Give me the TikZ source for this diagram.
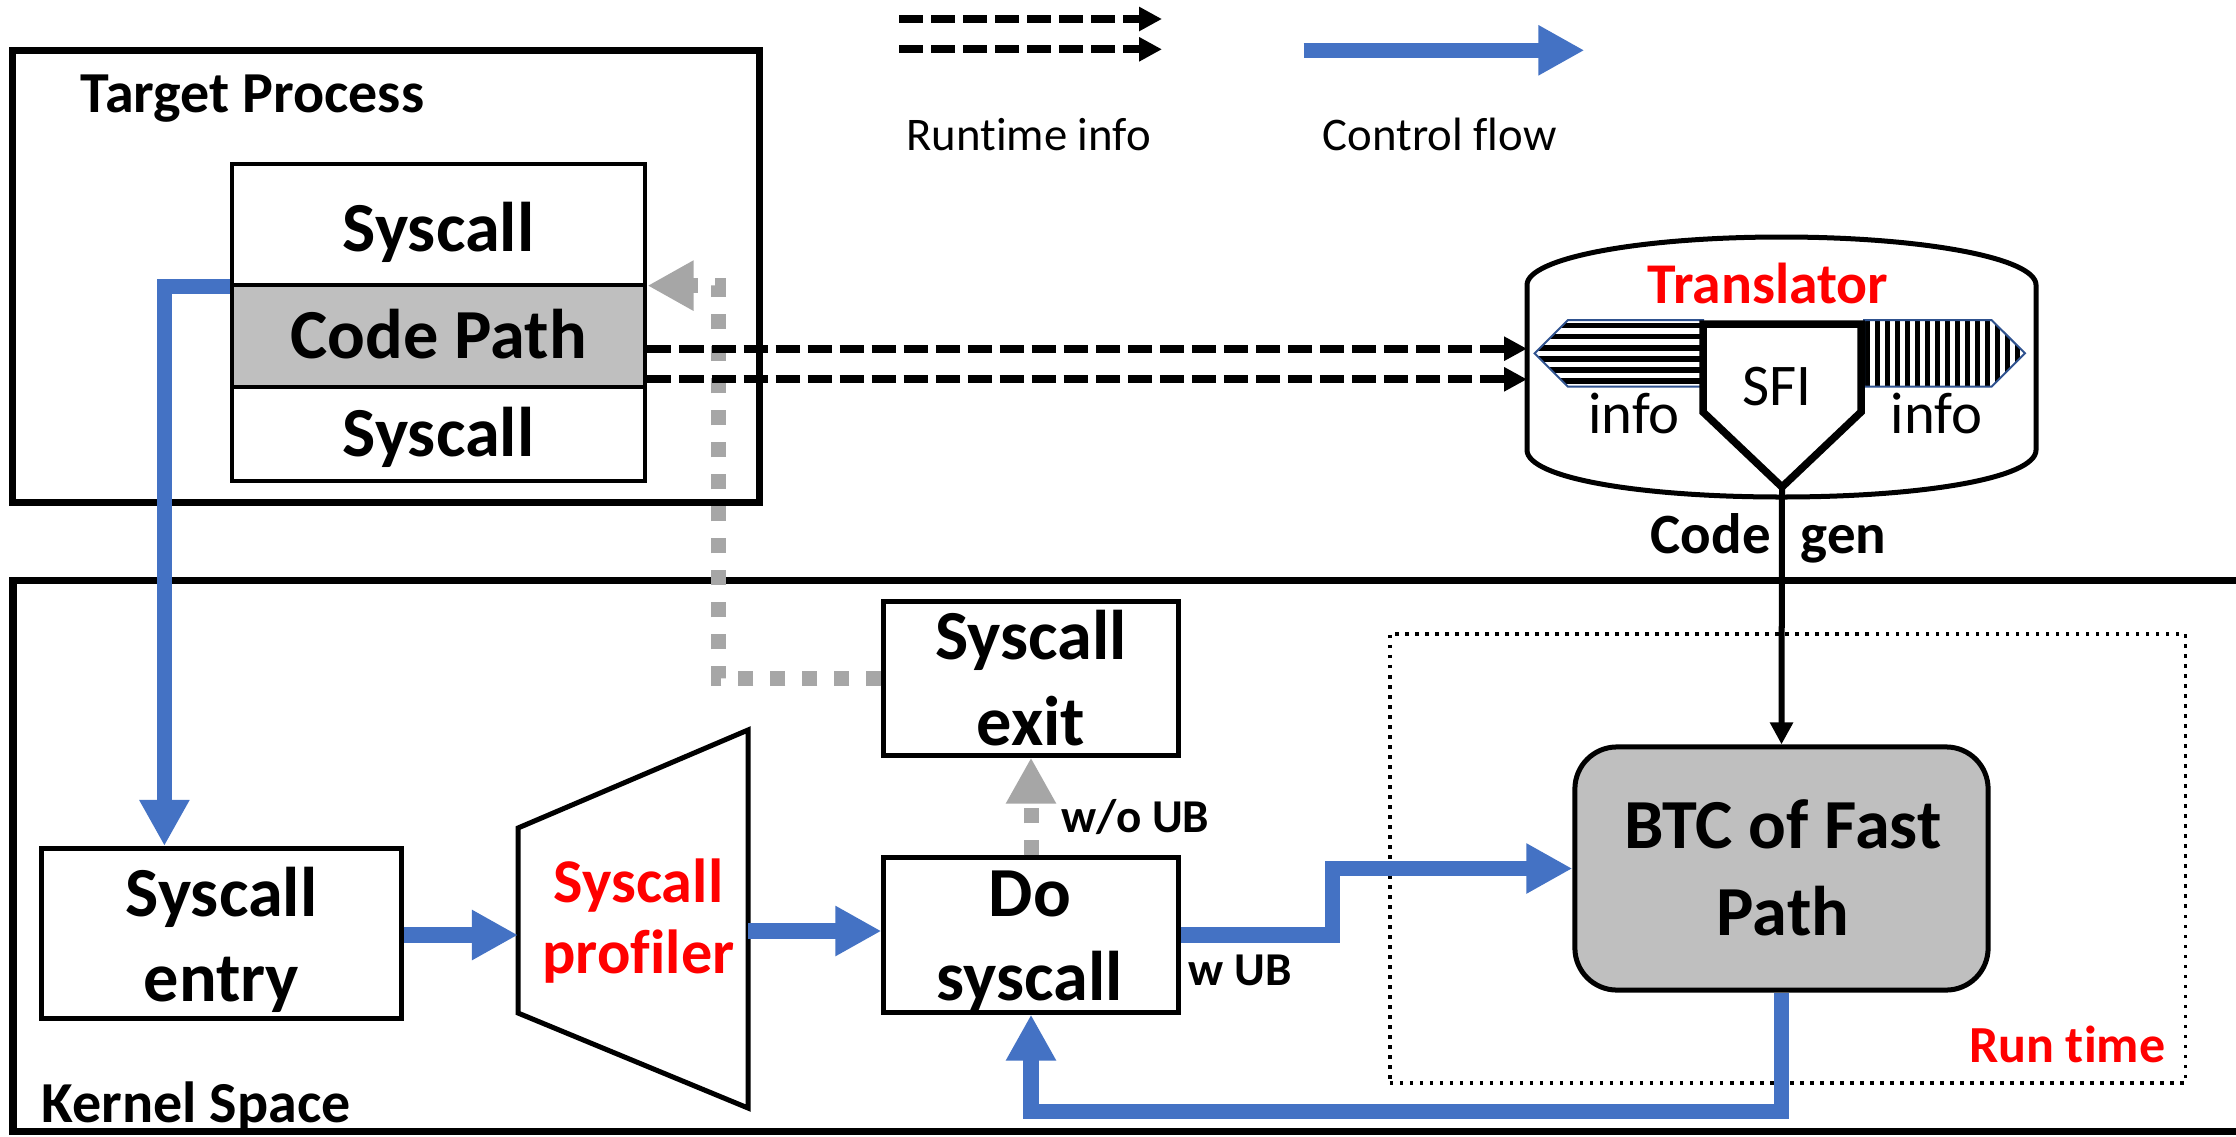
\documentclass[tikz,border=0pt]{standalone}
\usepackage{fontspec}
\setmainfont{Carlito}[Ligatures=NoCommon]
\usetikzlibrary{arrows.meta,calc}
\definecolor{cblue}{HTML}{4472C4}
\definecolor{cgray}{HTML}{A6A6A6}
\definecolor{cfill}{HTML}{BFBFBF}
\definecolor{cred}{HTML}{FF0000}
\definecolor{cedge}{HTML}{2F528F}
\tikzset{
  frameline/.style={draw, line width=0.07cm},
  boxline/.style={draw, line width=0.05cm, inner sep=0pt},
  cellbox/.style={draw, line width=0.047cm, inner sep=0pt, minimum width=4.13cm},
  lbl/.style={inner sep=0pt, anchor=base, font=\fontsize{20}{24}\selectfont\bfseries},
  flowarrow/.style={cblue, line width=0.155cm, -{Triangle[length=0.46cm,width=0.47cm]}},
  retarrow/.style={cgray, line width=0.15cm, dash pattern=on 0.15cm off 0.17cm, -{Triangle[length=0.46cm,width=0.47cm]}},
  infoarrow/.style={line width=0.077cm, dash pattern=on 0.24cm off 0.08cm, -{Triangle[length=0.23cm,width=0.23cm]}},
  genarrow/.style={line width=0.06cm, -{Triangle[length=0.22cm,width=0.22cm]}},
}
\begin{document}
\begin{tikzpicture}[x=0.01cm, y=-0.01cm]
\useasboundingbox (0,0) rectangle (2236,1136);
\fill[white] (0,0) rectangle (2236,1136);

% ---- frames ----
\draw[line width=0.07cm] (2240,580) -- (13,580) -- (13,1131) -- (2240,1131);
\node[frameline, minimum width=7.46cm, minimum height=4.51cm, inner sep=0pt] (tp) at (386,276.5) {};
\node[draw, line width=0.035cm, dash pattern=on 0.035cm off 0.065cm, minimum width=7.95cm, minimum height=4.49cm, inner sep=0pt] (rt) at (1787.5,858.5) {};

% ---- target process stack ----
\node[cellbox, minimum height=1.21cm] (stA) at (438.5,224.5) {};
\node[cellbox, minimum height=1.02cm, fill=cfill] (stB) at (438.5,336) {};
\node[cellbox, minimum height=0.94cm] (stC) at (438.5,434) {};

% ---- kernel boxes ----
\node[boxline, minimum width=3.59cm, minimum height=1.70cm] (entry) at (221.5,933.5) {};
\draw[line width=0.05cm] (518,828) -- (748,730) -- (748,1108) -- (518,1013) -- cycle;
\coordinate (profW) at (518,935);
\coordinate (profE) at (748,931);
\node[boxline, minimum width=2.94cm, minimum height=1.54cm] (doS) at (1031,935) {};
\node[boxline, minimum width=2.94cm, minimum height=1.53cm] (exitS) at (1031,678.5) {};
\node[boxline, fill=cfill, rounded corners=0.42cm, minimum width=4.13cm, minimum height=2.43cm] (btc) at (1781.5,868.5) {};

% ---- translator ----
\draw[line width=0.05cm, fill=white] (1527,285) .. controls (1527,258) and (1640,237) .. (1781.5,237)
  .. controls (1923,237) and (2036,258) .. (2036,285) -- (2036,450)
  .. controls (2036,478) and (1923,497) .. (1781.5,497)
  .. controls (1640,497) and (1527,478) .. (1527,450) -- cycle;
\coordinate (cylL) at (1527,350);
\begin{scope}
  \clip (1534.6,353.3) -- (1568,320) -- (1703,320) -- (1703,386.7) -- (1568,386.7) -- cycle;
  \foreach \k in {0,...,5} \fill (1520,{322.5+11.1*\k}) rectangle ++(190,5.8);
\end{scope}
\begin{scope}
  \clip (1864,320) -- (1991.5,320) -- (2025,353.3) -- (1991.5,386.7) -- (1864,386.7) -- cycle;
  \foreach \k in {0,...,16} \fill ({1865+10*\k},315) rectangle ++(5,75);
\end{scope}
\draw[cedge, line width=0.02cm] (1534.6,353.3) -- (1568,320) -- (1703,320) -- (1703,386.7) -- (1568,386.7) -- cycle;
\draw[cedge, line width=0.02cm] (1864,320) -- (1991.5,320) -- (2025,353.3) -- (1991.5,386.7) -- (1864,386.7) -- cycle;
\draw[line width=0.075cm, fill=white, line join=miter] (1703,324) -- (1861,324) -- (1861,412) -- (1782,487) -- (1703,412) -- cycle;
\coordinate (sfiTip) at (1782,487);

% ---- connectors ----
\coordinate (cpA) at ($(stB.east)+(0,12.7)$);
\coordinate (cpB) at ($(stB.east)+(0,43.3)$);
\draw[retarrow] (exitS.west) -- ++(-163,0) |- ($(stB.north east)+(0,3)$);
\draw[retarrow] (doS.north) -- (exitS.south);
\draw[infoarrow] (cpA) -- (cpA -| cylL);
\draw[infoarrow] (cpB) -- (cpB -| cylL);
\draw[flowarrow] ($(stB.north west)+(0,3.7)$) -| ($(entry.north west)+(125,0)$);
\draw[flowarrow] (entry.east |- profW) -- (profW);
\draw[flowarrow] (profE) -- (profE -| doS.west);
\draw[flowarrow] (doS.east) -- ++(152,0) |- (btc.west);
\draw[flowarrow] (btc.south) -- ++(0,119) -| (doS.south);
\draw[genarrow] (sfiTip) -- (btc.north);

% ---- legend ----
\coordinate (lgA1) at (899,19);   \coordinate (lgA2) at (1162,19);
\coordinate (lgB1) at (899,49.3); \coordinate (lgB2) at (1162,49.3);
\coordinate (lgC1) at (1303.6,50.3); \coordinate (lgC2) at (1584.4,50.3);
\draw[infoarrow] (lgA1) -- (lgA2);
\draw[infoarrow] (lgB1) -- (lgB2);
\draw[flowarrow] (lgC1) -- (lgC2);
\node[inner sep=0pt, anchor=base, font=\fontsize{13.3}{15}\selectfont] (tRun) at (1028.6,150) {Runtime info};
\node[inner sep=0pt, anchor=base, font=\fontsize{13.3}{15}\selectfont] (tCtl) at (1439.7,150) {Control flow};

% ---- labels ----
\node[lbl, anchor=base west, font=\fontsize{16.5}{18}\selectfont\bfseries] (tTP) at (80,112) {Target Process};
\node[lbl, anchor=base west, font=\fontsize{16.5}{18}\selectfont\bfseries] (tKS) at (41,1122) {Kernel Space};
\node[lbl] (tA) at (438.5,251.7) {Syscall};
\node[lbl] (tB) at (438.5,358.3) {Code Path};
\node[lbl] (tC) at (438.5,456.7) {Syscall};
\node[lbl] (tE1) at (221.5,916) {Syscall};
\node[lbl] (tE2) at (221.5,1001) {entry};
\node[lbl, text=cred, font=\fontsize{17.7}{20}\selectfont\bfseries] (tP1) at (638.5,902) {Syscall};
\node[lbl, text=cred, font=\fontsize{17.7}{20}\selectfont\bfseries] (tP2) at (638.5,973.6) {profiler};
\node[lbl] (tD1) at (1030,916.7) {Do};
\node[lbl] (tD2) at (1030,1000) {syscall};
\node[lbl] (tX1) at (1031,659.3) {Syscall};
\node[lbl] (tX2) at (1031,745) {exit};
\node[lbl] (tF1) at (1783,848.6) {BTC of Fast};
\node[lbl] (tF2) at (1783,935) {Path};
\node[lbl, anchor=base west, font=\fontsize{13.4}{15}\selectfont\bfseries] (tWo) at (1061,832) {w/o UB};
\node[lbl, anchor=base west, font=\fontsize{13.4}{15}\selectfont\bfseries] (tW) at (1188,985) {w UB};
\node[lbl, anchor=base east, text=cred, font=\fontsize{14.8}{16}\selectfont\bfseries] (tRT) at (2166,1062) {Run time};
\node[lbl, text=cred, font=\fontsize{16.4}{18}\selectfont\bfseries] (tTr) at (1768,303) {Translator};
\node[lbl, font=\fontsize{16.8}{18}\selectfont] (tSFI) at (1777,405) {SFI};
\node[lbl, font=\fontsize{16.7}{18}\selectfont] (tI1) at (1634,433) {info};
\node[lbl, font=\fontsize{16.7}{18}\selectfont] (tI2) at (1936.5,433) {info};
\node[lbl, anchor=base east, font=\fontsize{16.2}{18}\selectfont\bfseries] (tCg1) at (1771.4,553) {Code};
\node[lbl, anchor=base west, font=\fontsize{16.2}{18}\selectfont\bfseries] (tCg2) at (1800,553) {gen};
\end{tikzpicture}
\end{document}
